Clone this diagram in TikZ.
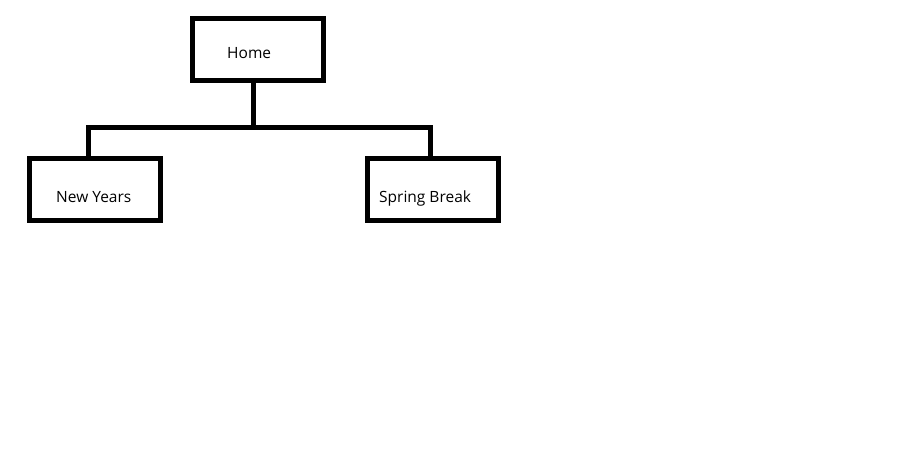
\documentclass[tikz,border=0pt]{standalone}
\usepackage{fontspec}
\setmainfont{Open Sans}
\usetikzlibrary{positioning}

\tikzset{
  pagebox/.style={draw,line width=5pt,minimum width=131pt,minimum height=62pt,inner sep=0pt},
  pagetext/.style={anchor=base west,inner sep=0pt,font=\fontsize{15.5}{18}\selectfont},
  link/.style={line width=5pt}
}

\begin{document}
\begin{tikzpicture}[x=1pt,y=-1pt]
        \useasboundingbox (0,0) rectangle (921,474);

        \node[pagebox] (home) at (258,49.5) {};
        \node[pagebox] (newyears) at (94.5,189.5) {};
        \node[pagebox] (springbreak) at (432.5,189.5) {};

        \node[pagetext] (homelbl) at (227,58) {Home};
        \node[pagetext] (newyearslbl) at (56,202) {New Years};
        \node[pagetext] (springbreaklbl) at (379,202) {Spring Break};

        \coordinate (fork) at (253.3,127.5);
        \draw[link] (home.south -| fork) -- (fork);
        \draw[link] ([xshift=-6.2pt]newyears.north) |- (fork) -| ([xshift=-2pt]springbreak.north);
      \end{tikzpicture}
\end{document}
